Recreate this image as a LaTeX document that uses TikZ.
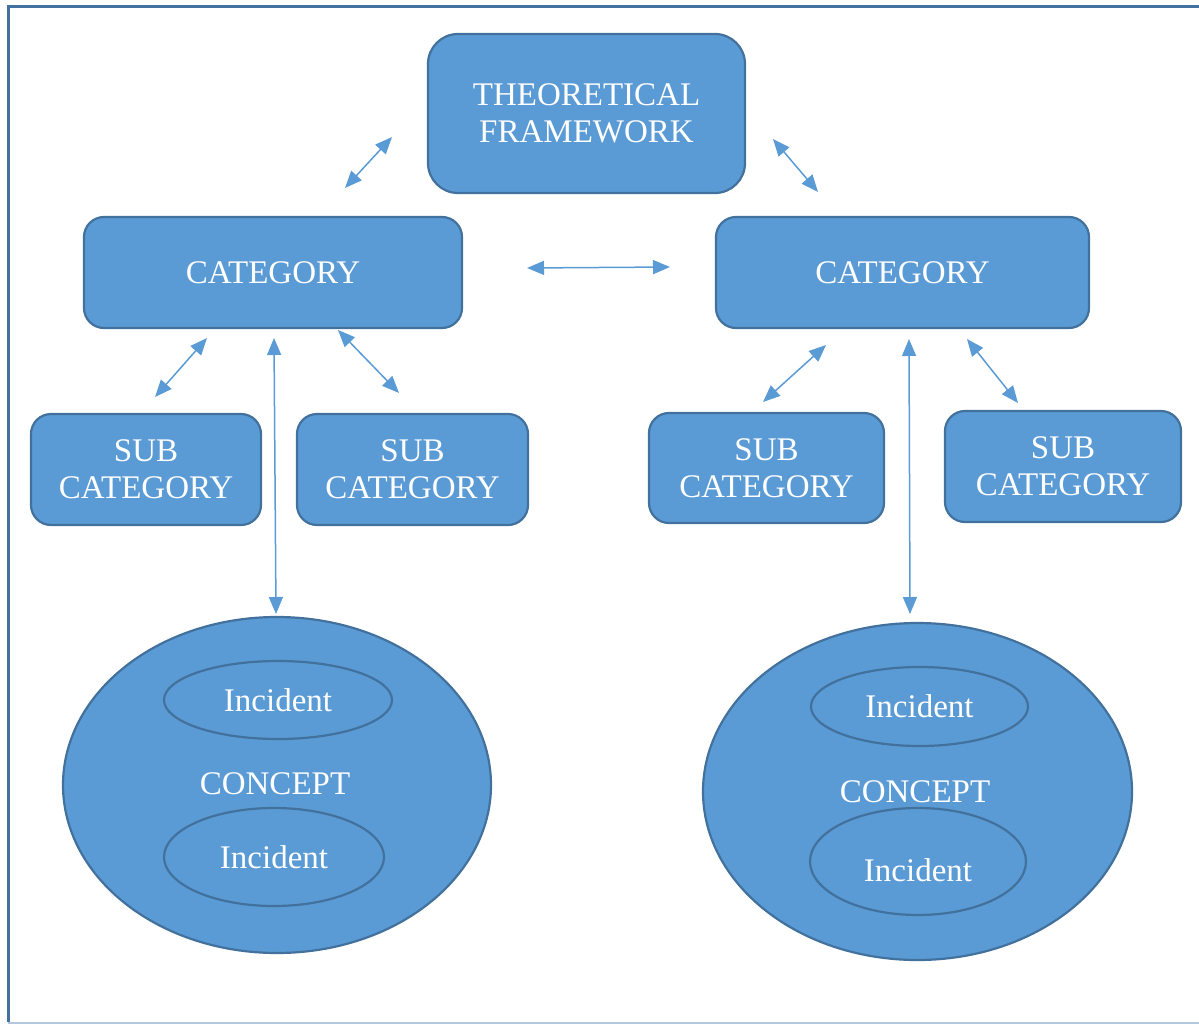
\documentclass[tikz,border=0pt]{standalone}
\usepackage{fontspec}
\setmainfont{Liberation Serif}
\usetikzlibrary{shapes.geometric,arrows.meta}
\definecolor{boxfill}{HTML}{5B9BD5}
\definecolor{boxline}{HTML}{41719C}
\definecolor{framedark}{HTML}{41719C}
\definecolor{framelight}{HTML}{B4C7DC}
\definecolor{arrowcol}{HTML}{5B9BD5}
\tikzset{
  txt/.style={text=white, font=\fontsize{33}{37}\selectfont, align=center, inner sep=0pt},
  rbox/.style={txt, draw=boxline, fill=boxfill, line width=2.2pt, rounded corners=20pt, rectangle},
  bigell/.style={txt, draw=boxline, fill=boxfill, line width=2.2pt, ellipse},
  smallell/.style={txt, draw=boxline, fill=boxfill, line width=2.2pt, ellipse},
  arr/.style={draw=arrowcol, line width=1.5pt, {Triangle[length=17pt,width=14pt]}-{Triangle[length=17pt,width=14pt]}, fill=arrowcol}
}
\begin{document}
\begin{tikzpicture}[x=1pt,y=-1pt]
\useasboundingbox (0,0) rectangle (1199,1025);
% frame
\draw[framedark, line width=3pt] (8,1022) -- (8,7) -- (1199,7);
\draw[framelight, line width=2pt] (8,1023) -- (1199,1023);

% boxes
\node[rbox, rounded corners=30pt, minimum width=317pt, minimum height=159pt] (tf) at (586.5,113.5) {THEORETICAL\\FRAMEWORK};
\node[rbox, minimum width=378pt, minimum height=111pt] (catL) at (273,272.5) {CATEGORY};
\node[rbox, minimum width=373pt, minimum height=111pt] (catR) at (902.5,272.5) {CATEGORY};
\node[rbox, minimum width=230pt, minimum height=111pt] (subL1) at (146,469.5) {SUB\\CATEGORY};
\node[rbox, minimum width=231pt, minimum height=111pt] (subL2) at (412.5,469.5) {SUB\\CATEGORY};
\node[rbox, minimum width=235pt, minimum height=110pt] (subR1) at (766.5,468) {SUB\\CATEGORY};
\node[rbox, minimum width=236pt, minimum height=111pt] (subR2) at (1063,466.5) {SUB\\CATEGORY};

% concepts
\node[bigell, minimum width=428pt, minimum height=336pt] (conL) at (277,785) {};
\node[txt] (conLt) at (275,784) {CONCEPT};
\node[smallell, minimum width=228pt, minimum height=78pt] (incL1) at (278,700) {Incident};
\node[smallell, minimum width=220pt, minimum height=98pt] (incL2) at (274,857) {Incident};

\node[bigell, minimum width=429pt, minimum height=337pt] (conR) at (917.5,791.5) {};
\node[txt] (conRt) at (915,792) {CONCEPT};
\node[smallell, minimum width=217pt, minimum height=79pt] (incR1) at (919.5,706.5) {Incident};
\node[smallell, minimum width=216pt, minimum height=107pt] (incR2) at (918,861.5) {};
\node[txt] (incR2t) at (918,870) {Incident};

% arrow end points
\coordinate (a1s) at (345,188); \coordinate (a1e) at (392,137);
\coordinate (a2s) at (773,139); \coordinate (a2e) at (818,192);
\coordinate (a3s) at (527,268); \coordinate (a3e) at (670,267);
\coordinate (a4s) at (155,397); \coordinate (a4e) at (207,338);
\coordinate (a5s) at (274,338); \coordinate (a5e) at (276,614);
\coordinate (a6s) at (338,330); \coordinate (a6e) at (399,393);
\coordinate (a7s) at (763,402); \coordinate (a7e) at (826,345);
\coordinate (a8s) at (909,339); \coordinate (a8e) at (910,614);
\coordinate (a9s) at (967,339); \coordinate (a9e) at (1018,403);

\foreach \i in {1,...,9} { \draw[arr] (a\i s) -- (a\i e); }
\end{tikzpicture}
\end{document}
